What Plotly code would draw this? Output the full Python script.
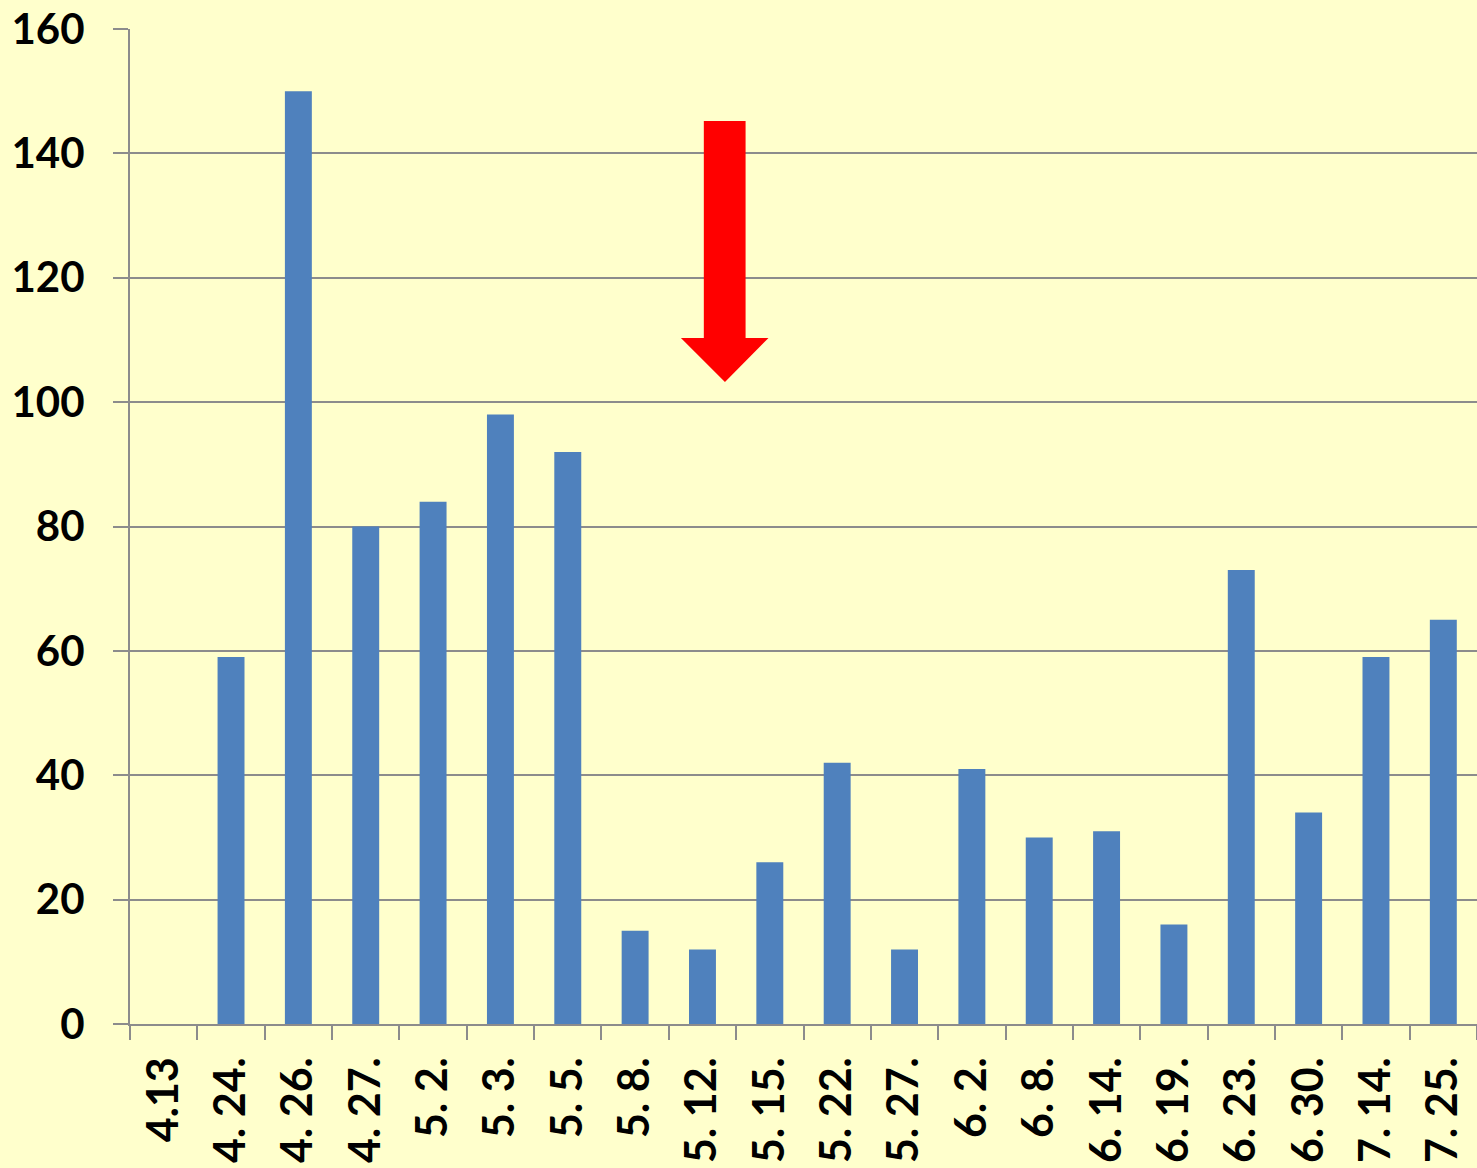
import plotly.graph_objects as go

categories = ["4.13", "4. 24.", "4. 26.", "4. 27.", "5. 2.", "5. 3.", "5. 5.", "5. 8.",
              "5. 12.", "5. 15.", "5. 22.", "5. 27.", "6. 2.", "6. 8.", "6. 14.", "6. 19.",
              "6. 23.", "6. 30.", "7. 14.", "7. 25."]
values = [0, 59, 150, 80, 84, 98, 92, 15, 12, 26, 42, 12, 41, 30, 31, 16, 73, 34, 59, 65]
y_ticks = [0, 20, 40, 60, 80, 100, 120, 140, 160]

BG = "#FFFFCC"
GRID = "#8C8C8C"
FONT = "Lato"

fig = go.Figure()
fig.add_trace(go.Bar(x=categories, y=values, marker=dict(color="#4F81BD", line=dict(width=0)),
                     width=0.4))

# red arrow (plot-area / paper coordinates)
arrow = "M 0.426 0.9075 L 0.457 0.9075 L 0.457 0.6894 L 0.474 0.6894 L 0.4417 0.6452 L 0.409 0.6894 L 0.426 0.6894 Z"
fig.add_shape(type="path", path=arrow, xref="paper", yref="paper",
              fillcolor="#FF0000", line=dict(width=0), layer="above")

fig.update_layout(
    width=1477, height=1168,
    margin=dict(l=130, r=0, t=29, b=144, autoexpand=False),
    paper_bgcolor=BG, plot_bgcolor=BG,
    showlegend=False,
    font=dict(family=FONT, color="black"),
)
fig.update_xaxes(
    type="category", tickangle=-90, automargin=False,
    tickfont=dict(family=FONT, size=43, color="black", weight="bold"),
    showline=True, linecolor=GRID, linewidth=2,
    ticks="outside", ticklen=14, tickwidth=2, tickcolor=GRID, tickson="boundaries",
    ticklabelstandoff=14,
    showgrid=False,
)
fig.update_yaxes(
    range=[0, 160], tickvals=y_ticks, ticktext=[str(v) for v in y_ticks], automargin=False,
    tickfont=dict(family=FONT, size=42, color="black", weight="bold"),
    showline=True, linecolor=GRID, linewidth=2,
    ticks="outside", ticklen=15, tickwidth=2, tickcolor=GRID,
    showgrid=True, gridcolor=GRID, gridwidth=2,
    zeroline=False, ticklabelstandoff=20,
)

fig.write_html("out.html",
               config={"displayModeBar": False},
               post_script="document.body.style.margin='0';document.body.style.background='#FFFFCC';")
